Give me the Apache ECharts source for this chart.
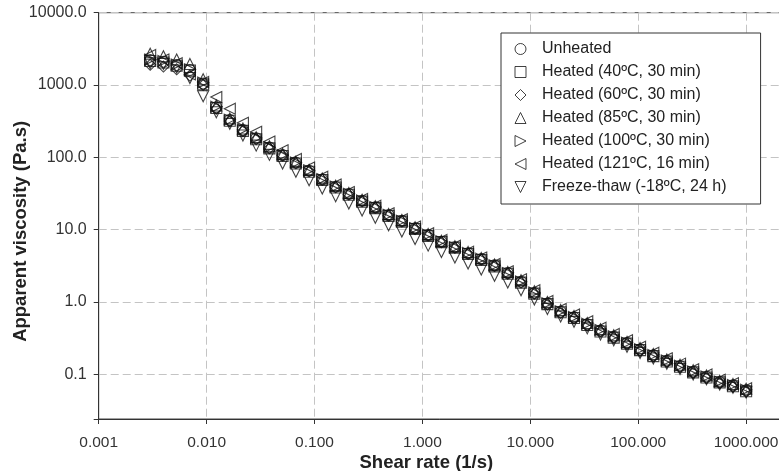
<!DOCTYPE html>
<html lang="en">
<head>
<meta charset="UTF-8">
<title>Apparent viscosity vs shear rate</title>
<style>
    html, body { margin: 0; padding: 0; background: #fff; }
    #chart { width: 779px; height: 471px; }
</style>
</head>
<body>
<div id="chart"></div>
<script src="https://cdn.jsdelivr.net/npm/echarts@6/dist/echarts.min.js"></script>
<script>
// shear rate (1/s)
var shearRate = [0.0030, 0.00398, 0.00528, 0.0070, 0.00929, 0.0123, 0.0164, 0.0217, 0.0288, 0.0382,
    0.0506, 0.0672, 0.0891, 0.118, 0.157, 0.208, 0.276, 0.366, 0.486, 0.645,
    0.855, 1.13, 1.50, 2.00, 2.65, 3.51, 4.66, 6.18, 8.20, 10.9,
    14.4, 19.1, 25.4, 33.7, 44.7, 59.3, 78.7, 104, 138, 184,
    244, 323, 429, 569, 755, 1000];

// apparent viscosity (Pa.s)
var unheated = [2210, 2100, 1890, 1610, 1050, 491, 327, 238, 183, 136,
    107, 84, 65, 49.4, 39.1, 31.0, 25.0, 20.3, 15.8, 13.2,
    10.4, 8.4, 6.8, 5.7, 4.7, 3.9, 3.2, 2.5, 1.9, 1.33,
    0.95, 0.73, 0.61, 0.49, 0.40, 0.33, 0.27, 0.22, 0.183, 0.153,
    0.130, 0.108, 0.092, 0.078, 0.070, 0.060];
var heated40 = [2150, 2050, 1850, 1580, 1020, 480, 320, 232, 178, 133,
    104, 82, 63, 48.5, 38.2, 30.3, 24.4, 19.8, 15.5, 12.9,
    10.2, 8.2, 6.7, 5.6, 4.6, 3.8, 3.1, 2.45, 1.85, 1.30,
    0.93, 0.72, 0.60, 0.48, 0.39, 0.32, 0.265, 0.215, 0.178, 0.150,
    0.127, 0.106, 0.090, 0.077, 0.068, 0.058];
var heated60 = [1900, 1800, 1650, 1350, 1000, 470, 315, 230, 178, 134,
    106, 83, 64, 49, 38.5, 30.6, 24.6, 20.0, 15.6, 13.0,
    10.2, 8.3, 6.7, 5.6, 4.6, 3.85, 3.15, 2.45, 1.85, 1.30,
    0.92, 0.70, 0.59, 0.47, 0.39, 0.32, 0.26, 0.21, 0.176, 0.148,
    0.125, 0.104, 0.088, 0.075, 0.067, 0.057];
var heated85 = [2700, 2500, 2250, 1950, 1200, 520, 345, 250, 190, 142,
    111, 87, 67, 51, 40.5, 32, 25.8, 21, 16.4, 13.6,
    10.8, 8.7, 7.0, 5.9, 4.9, 4.05, 3.3, 2.6, 2.0, 1.40,
    1.0, 0.77, 0.64, 0.51, 0.42, 0.345, 0.28, 0.23, 0.19, 0.16,
    0.135, 0.113, 0.096, 0.081, 0.073, 0.063];
var heated100 = [2250, 2150, 1920, 1650, 1080, 500, 332, 242, 185, 138,
    108, 85, 66, 50, 39.5, 31.3, 25.3, 20.5, 16.0, 13.3,
    10.5, 8.5, 6.9, 5.7, 4.75, 3.95, 3.22, 2.52, 1.92, 1.35,
    0.96, 0.74, 0.62, 0.50, 0.41, 0.335, 0.273, 0.222, 0.185, 0.155,
    0.131, 0.109, 0.093, 0.079, 0.071, 0.061];
var heated121 = [2600, 2250, 2000, 1400, 1100, 680, 470, 300, 225, 165,
    125, 95, 72, 54, 42, 33, 26.5, 21.4, 16.8, 13.9,
    11.0, 8.9, 7.2, 6.0, 4.95, 4.1, 3.35, 2.65, 2.05, 1.45,
    1.03, 0.80, 0.67, 0.54, 0.44, 0.36, 0.295, 0.24, 0.198, 0.166,
    0.140, 0.117, 0.099, 0.084, 0.075, 0.064];
var freezeThaw = [2000, 1950, 1750, 1250, 700, 420, 290, 200, 145, 108,
    82, 63, 48, 37, 29, 23, 18.3, 14.6, 11.5, 9.4,
    7.4, 6.0, 4.9, 4.1, 3.4, 2.8, 2.3, 1.85, 1.45, 1.08,
    0.80, 0.63, 0.53, 0.43, 0.355, 0.295, 0.24, 0.197, 0.165, 0.139,
    0.118, 0.099, 0.085, 0.072, 0.065, 0.056];

var seriesNames = ['Unheated', 'Heated (40ºC, 30 min)', 'Heated (60ºC, 30 min)', 'Heated (85ºC, 30 min)',
    'Heated (100ºC, 30 min)', 'Heated (121ºC, 16 min)', 'Freeze-thaw (-18ºC, 24 h)'];
var seriesValues = [unheated, heated40, heated60, heated85, heated100, heated121, freezeThaw];

var font = '"Liberation Sans", Arial, sans-serif';
// hollow markers; triangles as paths so the legend shows the same direction
var markers = [
    'circle',
    'rect',
    'diamond',
    'path://M5,0L10,10L0,10Z',
    'path://M0,0L10,5L0,10Z',
    'path://M10,0L0,5L10,10Z',
    'path://M0,0L10,0L5,10Z'
];

function isDecade(v) {
    var l = Math.log(v) / Math.LN10;
    return Math.abs(l - Math.round(l)) < 1e-6;
}

var series = seriesNames.map(function (name, s) {
    return {
        name: name,
        type: 'scatter',
        symbol: markers[s],
        symbolSize: 11,
        itemStyle: {color: 'rgba(0,0,0,0)', borderColor: '#111', borderWidth: 1.1},
        data: shearRate.map(function (x, i) { return [x, seriesValues[s][i]]; })
    };
});

var chart = echarts.init(document.getElementById('chart'));
chart.setOption({
    animation: false,
    textStyle: {fontFamily: font},
    grid: {
        left: 98.7, top: 12.7, right: -1, bottom: 52,
        outerBoundsMode: 'none',
        containLabel: false,
        show: true, borderColor: '#444', borderWidth: 1
    },
    legend: {
        orient: 'vertical',
        left: 501, top: 33,
        padding: [8, 34, 9, 13.5],
        itemWidth: 11, itemHeight: 11, itemGap: 7,
        borderColor: '#333', borderWidth: 1, borderRadius: 0,
        backgroundColor: '#fff',
        itemStyle: {color: 'rgba(0,0,0,0)', borderColor: '#111', borderWidth: 1},
        textStyle: {fontFamily: font, fontSize: 16, color: '#222', padding: [0, 0, 0, 11]},
        data: seriesNames.map(function (n, s) { return {name: n, icon: markers[s]}; })
    },
    xAxis: {
        type: 'log', logBase: 10,
        min: 0.001, max: 2060,
        name: 'Shear rate (1/s)',
        nameLocation: 'middle', nameGap: 34, nameMoveOverlap: false,
        nameTextStyle: {fontFamily: font, fontSize: 18.5, fontWeight: 'bold', color: '#222', padding: [0, 26, 0, 0]},
        axisLine: {lineStyle: {color: '#333', width: 1}},
        axisTick: {show: true, length: 5, inside: false, lineStyle: {color: '#333'}},
        axisLabel: {
            fontFamily: font, fontSize: 15.5, color: '#333', margin: 16,
            formatter: function (v) { return isDecade(v) ? v.toFixed(3) : ''; }
        },
        splitLine: {show: true, lineStyle: {color: '#c4c4c4', type: [8, 4], width: 1}},
        minorTick: {show: false}
    },
    yAxis: {
        type: 'log', logBase: 10,
        min: 0.024, max: 10000,
        name: 'Apparent viscosity (Pa.s)',
        nameLocation: 'middle', nameGap: 68, nameMoveOverlap: false,
        nameTextStyle: {fontFamily: font, fontSize: 18.5, fontWeight: 'bold', color: '#222', padding: [0, 31, 0, 0]},
        axisLine: {show: true, lineStyle: {color: '#333', width: 1}},
        axisTick: {show: true, length: 5, inside: false, lineStyle: {color: '#333'}},
        axisLabel: {
            fontFamily: font, fontSize: 16, color: '#333', margin: 12,
            formatter: function (v) { return isDecade(v) ? v.toFixed(1) : ''; }
        },
        splitLine: {show: true, lineStyle: {color: '#c4c4c4', type: [8, 4], width: 1}}
    },
    series: series
});
</script>
</body>
</html>
